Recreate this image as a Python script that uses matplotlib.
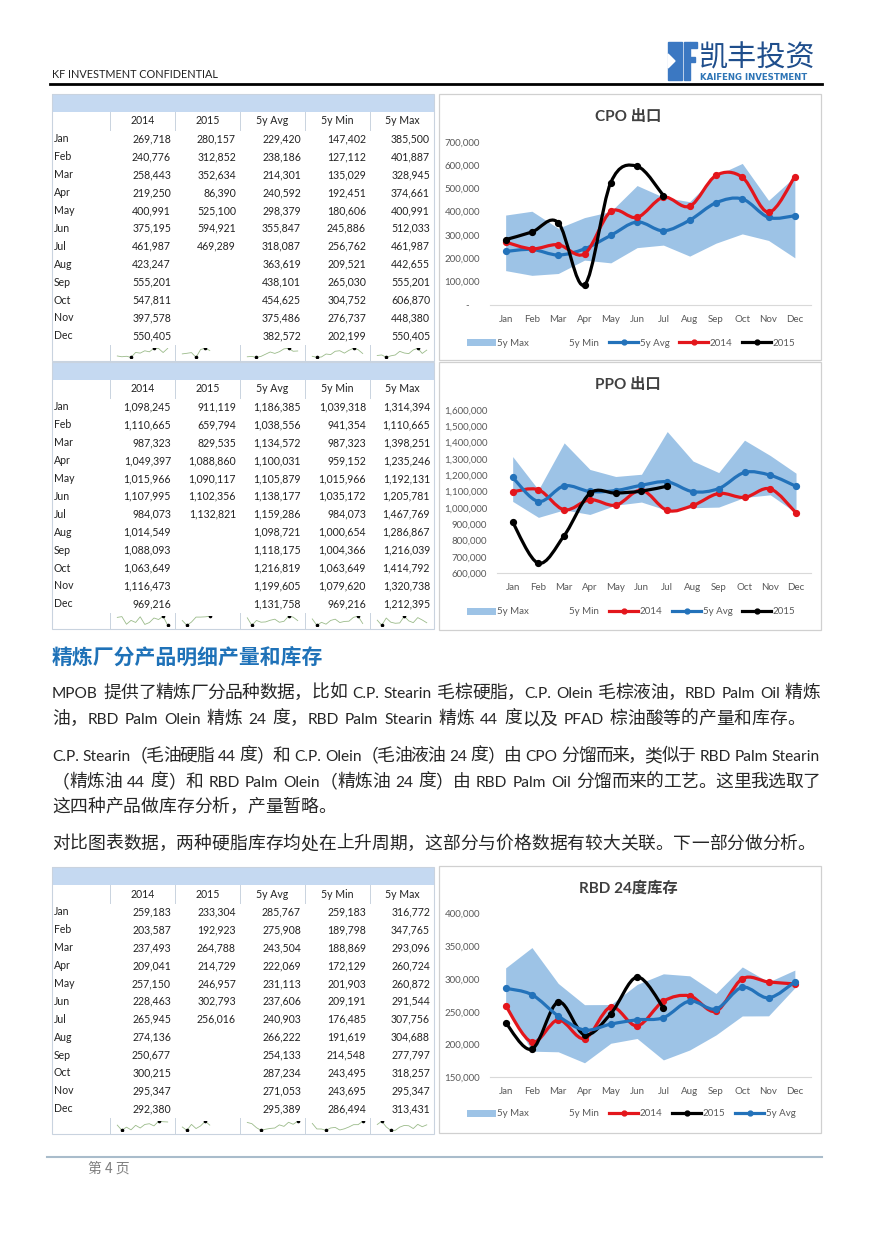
import re
import numpy as np
import matplotlib
matplotlib.use("Agg")
import matplotlib.pyplot as plt
from matplotlib.path import Path
from matplotlib.patches import PathPatch, Rectangle, Polygon, Patch
from matplotlib.lines import Line2D

# ---- data ----
months = ['Jan', 'Feb', 'Mar', 'Apr', 'May', 'Jun', 'Jul', 'Aug', 'Sep', 'Oct', 'Nov', 'Dec']
col_names = ['2014', '2015', '5y Avg', '5y Min', '5y Max']

cpo_2014 = [269718, 240776, 258443, 219250, 400991, 375195, 461987, 423247, 555201, 547811, 397578, 550405]
cpo_2015 = [280157, 312852, 352634, 86390, 525100, 594921, 469289]
cpo_avg = [229420, 238186, 214301, 240592, 298379, 355847, 318087, 363619, 438101, 454625, 375486, 382572]
cpo_min = [147402, 127112, 135029, 192451, 180606, 245886, 256762, 209521, 265030, 304752, 276737, 202199]
cpo_max = [385500, 401887, 328945, 374661, 400991, 512033, 461987, 442655, 555201, 606870, 448380, 550405]

ppo_2014 = [1098245, 1110665, 987323, 1049397, 1015966, 1107995, 984073, 1014549, 1088093, 1063649, 1116473, 969216]
ppo_2015 = [911119, 659794, 829535, 1088860, 1090117, 1102356, 1132821]
ppo_avg = [1186385, 1038556, 1134572, 1100031, 1105879, 1138177, 1159286, 1098721, 1118175, 1216819, 1199605, 1131758]
ppo_min = [1039318, 941354, 987323, 959152, 1015966, 1035172, 984073, 1000654, 1004366, 1063649, 1079620, 969216]
ppo_max = [1314394, 1110665, 1398251, 1235246, 1192131, 1205781, 1467769, 1286867, 1216039, 1414792, 1320738, 1212395]

rbd_2014 = [259183, 203587, 237493, 209041, 257150, 228463, 265945, 274136, 250677, 300215, 295347, 292380]
rbd_2015 = [233304, 192923, 264788, 214729, 246957, 302793, 256016]
rbd_avg = [285767, 275908, 243504, 222069, 231113, 237606, 240903, 266222, 254133, 287234, 271053, 295389]
rbd_min = [259183, 189798, 188869, 172129, 201903, 209191, 176485, 191619, 214548, 243495, 243695, 286494]
rbd_max = [316772, 347765, 293096, 260724, 260872, 291544, 307756, 304688, 277797, 318257, 295347, 313431]

heading = '精炼厂分产品明细产量和库存'
para_lines = [
    'MPOB 提供了精炼厂分品种数据，比如 C.P. Stearin 毛棕硬脂，C.P. Olein 毛棕液油，RBD Palm Oil 精炼',
    '油，RBD Palm Olein 精炼 24 度，RBD Palm Stearin 精炼 44 度以及 PFAD 棕油酸等的产量和库存。',
    'C.P. Stearin（毛油硬脂 44 度）和 C.P. Olein（毛油液油 24 度）由 CPO 分馏而来，类似于 RBD Palm Stearin',
    '（精炼油 44 度）和 RBD Palm Olein（精炼油 24 度）由 RBD Palm Oil 分馏而来的工艺。这里我选取了',
    '这四种产品做库存分析，产量暂略。',
    '对比图表数据，两种硬脂库存均处在上升周期，这部分与价格数据有较大关联。下一部分做分析。',
]
justified = [True, False, True, True, False, False]

# ---- styles ----
W, H = 873, 1236
FILL = '#9DC3E6'
BLUE = '#2372BA'
RED = '#E3161C'
BLACK = '#000000'
GREY = '#595959'
LAT = ['Lato', 'Noto Sans CJK SC', 'DejaVu Sans']
CJK = ['Noto Sans CJK SC', 'DejaVu Sans']

fig = plt.figure(figsize=(W / 100, H / 100), dpi=100)
bg = fig.add_axes([0, 0, 1, 1])
bg.set_xlim(0, W)
bg.set_ylim(H, 0)
bg.axis('off')
renderer = fig.canvas.get_renderer()


def px_axes(left, top, right, bottom):
    return fig.add_axes([left / W, 1 - bottom / H, (right - left) / W, (bottom - top) / H])


def smooth_path(xs, ys):
    # excel-like smoothed line (catmull-rom as bezier)
    pts = np.column_stack([xs, ys]).astype(float)
    n = len(pts)
    verts = [pts[0]]
    codes = [Path.MOVETO]
    for i in range(n - 1):
        p0 = pts[i - 1] if i > 0 else pts[i]
        p1, p2 = pts[i], pts[i + 1]
        p3 = pts[i + 2] if i + 2 < n else pts[i + 1]
        verts += [p1 + (p2 - p0) / 6, p2 - (p3 - p1) / 6, p2]
        codes += [Path.CURVE4] * 3
    return Path(verts, codes)


def fmt(v):
    return f'{v:,.0f}'


# ---- header ----
bg.text(52, 75, 'KF INVESTMENT CONFIDENTIAL', fontsize=7.8, family=LAT, color='#222222', va='center')
bg.plot([50, 822], [84, 84], color='black', lw=2)
bg.add_patch(Rectangle((668, 42), 14, 38, color='#3B78C2'))
bg.add_patch(Polygon([[668, 54], [675, 61], [668, 68]], color='white'))
bg.add_patch(Rectangle((684, 42), 6, 38, color='#3B78C2'))
bg.add_patch(Rectangle((690, 42), 7, 6, color='#3B78C2'))
bg.add_patch(Rectangle((690, 57), 5, 5, color='#3B78C2'))
bg.text(699, 58, '凯丰投资', fontsize=21, family=CJK, color='#1F4E8C', va='center')
bg.text(700, 77, 'KAIFENG INVESTMENT', fontsize=6.2, family=['DejaVu Sans'], weight='bold',
        color='#2E75B6', va='center')


# ---- tables ----
edges = [52, 110, 175, 240, 305, 370, 434]


def draw_table(top, cols):
    band_h, row_h = 18, 17.9
    head_c = top + band_h + 9
    spark_top = head_c + row_h * 12 + 9
    bottom = spark_top + 16
    bg.add_patch(Rectangle((edges[0], top), edges[-1] - edges[0], band_h, color='#C5D9F1', lw=0))
    bg.add_patch(Rectangle((edges[0], top), edges[-1] - edges[0], bottom - top, fill=False,
                           ec='#C9D3DF', lw=0.8))
    for e in edges[1:-1]:
        bg.plot([e, e], [top + band_h, head_c + 9], color='#C9D3DF', lw=0.7)
        bg.plot([e, e], [spark_top, bottom], color='#C9D3DF', lw=0.7)
    for j, name in enumerate(col_names):
        bg.text((edges[j + 1] + edges[j + 2]) / 2, head_c, name, fontsize=7.6, family=LAT,
                color='#222222', ha='center', va='center')
    for i, m in enumerate(months):
        yc = head_c + row_h * (i + 1)
        bg.text(54, yc, m, fontsize=7.6, family=LAT, color='#222222', va='center')
        for j, vals in enumerate(cols):
            if i < len(vals):
                bg.text(edges[j + 2] - 4, yc, fmt(vals[i]), fontsize=7.6, family=LAT,
                        color='#222222', ha='right', va='center')
    for j, vals in enumerate(cols):
        sa = px_axes(edges[j + 1] + 5, spark_top + 3, edges[j + 2] - 5, bottom - 3)
        sa.axis('off')
        x = np.arange(len(vals))
        sa.plot(x, vals, color='#9BBB8A', lw=0.6)
        lo, hi = int(np.argmin(vals)), int(np.argmax(vals))
        sa.plot([lo, hi], [vals[lo], vals[hi]], 'o', color='black', ms=1.6, ls='none')
        sa.set_xlim(-0.5, 11.5)


draw_table(94, [cpo_2014, cpo_2015, cpo_avg, cpo_min, cpo_max])
draw_table(362, [ppo_2014, ppo_2015, ppo_avg, ppo_min, ppo_max])
draw_table(867, [rbd_2014, rbd_2015, rbd_avg, rbd_min, rbd_max])


# ---- charts ----
def draw_chart(box, rect, title, title_y, ylim, ystep, series, leg_y, zero_dash=False):
    bg.add_patch(Rectangle((box[0], box[1]), box[2] - box[0], box[3] - box[1], fill=False,
                           ec='#D0D0D0', lw=0.9))
    bg.text((box[0] + box[2]) / 2 - 2, title_y, title, fontsize=11, weight='bold',
            family=LAT, color='#404040', ha='center', va='center')
    ax = px_axes(*rect)
    ax.set_facecolor('none')
    x = np.arange(12)
    ax.fill_between(x, series['5y Min'], series['5y Max'], color=FILL, lw=0, zorder=1)
    handles = [Patch(fc=FILL, ec='none'), Patch(fc='white', ec='none')]
    labels = ['5y Max', '5y Min']
    z = 3
    for name, vals, color in series['lines']:
        xs = np.arange(len(vals))
        ax.add_patch(PathPatch(smooth_path(xs, vals), fill=False, ec=color, lw=2.3,
                               capstyle='round', joinstyle='round', zorder=z))
        ax.plot(xs, vals, 'o', color=color, ms=4.2, zorder=z + 0.5)
        handles.append(Line2D([], [], color=color, lw=2.3, marker='o', ms=3.5))
        labels.append(name)
        z += 1
    ax.set_xlim(-0.5, 11.5)
    ax.set_ylim(*ylim)
    ticks = np.arange(ylim[0], ylim[1] + 1, ystep)
    ax.set_yticks(ticks)
    ax.set_yticklabels(['-    ' if (t == 0 and zero_dash) else fmt(t) for t in ticks])
    ax.set_xticks(x)
    ax.set_xticklabels(months)
    for s in ['top', 'right', 'left']:
        ax.spines[s].set_visible(False)
    ax.spines['bottom'].set_color('#D9D9D9')
    ax.spines['bottom'].set_bounds(-0.6, 11.6)
    ax.tick_params(length=0, labelsize=7, colors=GREY)
    ax.tick_params(axis='x', pad=7)
    ax.tick_params(axis='y', pad=9)
    for lab in ax.get_xticklabels() + ax.get_yticklabels():
        lab.set_family(LAT)
    leg = ax.legend(handles, labels, loc='center', bbox_to_anchor=(631 / W, 1 - leg_y / H),
                    bbox_transform=fig.transFigure, ncol=len(labels), frameon=False,
                    handlelength=3.0, handletextpad=0.15, columnspacing=1.0,
                    prop={'family': LAT, 'size': 7})
    for t in leg.get_texts():
        t.set_color(GREY)
    return ax


draw_chart((439, 94, 821, 360), (492.5, 141.7, 808, 305), 'CPO 出口', 117,
           (0, 700000), 100000,
           {'5y Min': cpo_min, '5y Max': cpo_max,
            'lines': [('5y Avg', cpo_avg, BLUE), ('2014', cpo_2014, RED), ('2015', cpo_2015, BLACK)]},
           343, zero_dash=True)
draw_chart((439, 362, 821, 630), (499.8, 410, 808.9, 573), 'PPO 出口', 385,
           (600000, 1600000), 100000,
           {'5y Min': ppo_min, '5y Max': ppo_max,
            'lines': [('2014', ppo_2014, RED), ('5y Avg', ppo_avg, BLUE), ('2015', ppo_2015, BLACK)]},
           612)
draw_chart((439, 866, 821, 1133), (492.5, 913.3, 808, 1077.3), 'RBD 24度库存', 888,
           (150000, 400000), 50000,
           {'5y Min': rbd_min, '5y Max': rbd_max,
            'lines': [('2014', rbd_2014, RED), ('2015', rbd_2015, BLACK), ('5y Avg', rbd_avg, BLUE)]},
           1114)

# ---- text section ----
bg.text(52, 657, heading, fontsize=15, weight='bold', family=CJK, color='#1F72B8', va='center')

LAT_SIZE, CJK_SIZE = 11.2, 12.8


def tok_style(tok):
    if re.match(r'[A-Za-z0-9.]', tok):
        return dict(fontsize=LAT_SIZE, family=['Lato'])
    return dict(fontsize=CJK_SIZE, family=CJK)


def tok_width(tok):
    if tok == ' ':
        return 6.0
    t = bg.text(0, 0, tok, **tok_style(tok))
    w = t.get_window_extent(renderer).width
    t.remove()
    return w


def draw_line(x0, y, s, target=None):
    toks = re.findall(r'[A-Za-z0-9.]+| |.', s)
    widths = [tok_width(t) for t in toks]
    gap = 0.0
    if target is not None and len(toks) > 1:
        gap = (target - sum(widths)) / (len(toks) - 1)
    x = x0
    for tk, w in zip(toks, widths):
        if tk != ' ':
            bg.text(x, y, tk, color='#262626', va='baseline', **tok_style(tk))
        x += w + gap


line_y = [692, 718, 755, 781, 806, 843]
for s, yy, jus in zip(para_lines, line_y, justified):
    draw_line(52, yy + 6, s, 768 if jus else None)

# ---- footer ----
bg.plot([47, 822], [1157, 1157], color='#A9BCCB', lw=1.5)
bg.text(88, 1169, '第 4 页', fontsize=10, family=CJK, color='#7F7F7F', va='center')

fig.savefig('out.png', dpi=100)
